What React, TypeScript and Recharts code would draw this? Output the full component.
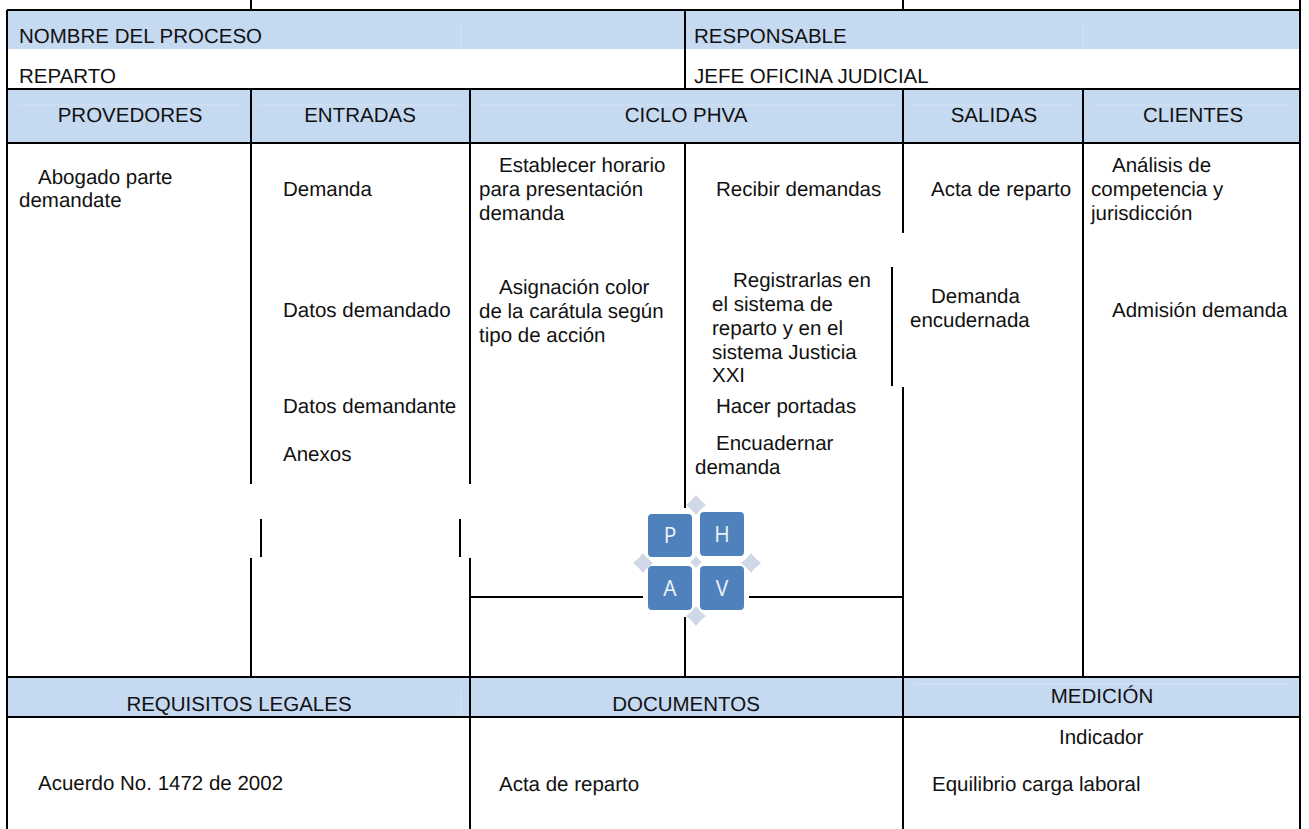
import { ScatterChart, Scatter, XAxis, YAxis, ReferenceArea, ReferenceLine } from 'recharts';

const WIDTH = 1309;
const HEIGHT = 829;

// blue header bands: [left, right, top, bottom]
const bands = [
  [8, 1299, 11, 49],
  [8, 1299, 90, 143],
  [8, 1299, 678, 717],
];

// black rules: [x1, y1, x2, y2]
const rules = [
  [251, 0, 251, 10],
  [903, 0, 903, 10],
  [1300, 0, 1300, 829],
  [7, 10, 1300, 10],
  [7, 89, 1300, 89],
  [7, 143, 1300, 143],
  [7, 677, 1300, 677],
  [7, 717, 1300, 717],
  [7, 10, 7, 829],
  [685, 10, 685, 89],
  [251, 89, 251, 484],
  [470, 89, 470, 484],
  [261, 519, 261, 557],
  [460, 519, 460, 557],
  [251, 558, 251, 677],
  [470, 558, 470, 829],
  [685, 143, 685, 508],
  [685, 617, 685, 677],
  [903, 89, 903, 233],
  [892, 267, 892, 386],
  [903, 387, 903, 829],
  [1083, 89, 1083, 677],
  [470, 597, 643, 597],
  [749, 597, 903, 597],
];

// pale lines inside the bands
const paleRules = [
  [18, 105, 241, 105],
  [260, 105, 461, 105],
  [479, 105, 895, 105],
  [913, 105, 1075, 105],
  [1093, 105, 1291, 105],
  [913, 684, 1291, 684],
  [461, 25, 461, 49],
  [461, 690, 461, 717],
  [1083, 25, 1083, 49],
];

const cellLabels = ['NOMBRE DEL PROCESO', 'RESPONSABLE', 'REPARTO', 'JEFE OFICINA JUDICIAL',
  'Abogado parte', 'demandate', 'Demanda', 'Datos demandado', 'Datos demandante', 'Anexos',
  'Establecer horario', 'para presentación', 'demanda',
  'Asignación color', 'de la carátula según', 'tipo de acción',
  'Recibir demandas', 'Registrarlas en', 'el sistema de', 'reparto y en el', 'sistema Justicia', 'XXI',
  'Hacer portadas', 'Encuadernar', 'demanda',
  'Acta de reparto', 'Demanda', 'encudernada',
  'Análisis de', 'competencia y', 'jurisdicción', 'Admisión demanda',
  'Acuerdo No. 1472 de 2002', 'Acta de reparto', 'Indicador', 'Equilibrio carga laboral'];
const cellX = [19, 694, 19, 694,
  38, 19, 283, 283, 283, 283,
  499, 479, 479,
  499, 479, 479,
  716, 733, 712, 712, 712, 712,
  716, 716, 695,
  931, 931, 910,
  1112, 1091, 1091, 1112,
  38, 499, 1059, 932];
const cellY = [36, 36, 76, 76,
  177, 200, 189, 310, 406, 454,
  165, 189, 213,
  287, 311, 335,
  189, 280, 304, 328, 352, 375,
  406, 443, 467,
  189, 296, 320,
  165, 189, 213, 310,
  783, 784, 737, 784];

const headers = ['PROVEDORES', 'ENTRADAS', 'CICLO PHVA', 'SALIDAS', 'CLIENTES', 'REQUISITOS LEGALES', 'DOCUMENTOS', 'MEDICIÓN'];
const headerX = [130, 360, 686, 994, 1193, 239, 686, 1102];
const headerY = [115, 115, 115, 115, 115, 704, 704, 696];

// PHVA squares: [left, right, top, bottom]
const squares = [
  [648, 692, 514, 557],
  [700, 744, 512, 556],
  [648, 692, 566, 610],
  [700, 744, 566, 610],
];
const squareLetters = ['P', 'H', 'A', 'V'];
const letterX = [670, 722, 670, 722];
const letterY = [535, 534, 588, 588];

const diamondX = [696, 643, 751, 696, 696];
const diamondY = [505, 563, 563, 616, 562];
const diamondR = [10, 10, 10, 10, 6];

const cellPoints = cellLabels.map((text, i) => ({ x: cellX[i], y: cellY[i], text }));
const headerPoints = headers.map((text, i) => ({ x: headerX[i], y: headerY[i], text }));
const letterPoints = squareLetters.map((text, i) => ({ x: letterX[i], y: letterY[i], text }));
const diamondPoints = diamondX.map((x, i) => ({ x, y: diamondY[i], r: diamondR[i] }));

const FONT = '"Liberation Sans", Arial, sans-serif';

function label(anchor: 'start' | 'middle') {
  return (props: any) => (
    <text x={props.cx} y={props.cy} textAnchor={anchor} dominantBaseline="central"
      fontFamily={FONT} fontSize={20.5} fill="#111" textRendering="geometricPrecision">
      {props.payload.text}
    </text>
  );
}

function LetterShape(props: any) {
  return (
    <text x={props.cx} y={props.cy} textAnchor="middle" dominantBaseline="central"
      fontFamily='"Open Sans", sans-serif' fontSize={21} fill="#eef3fa">
      {props.payload.text}
    </text>
  );
}

function DiamondShape(props: any) {
  const { cx, cy } = props;
  const r = props.payload.r;
  const k = r * 0.42;
  const d = `M${cx} ${cy - r}Q${cx + k} ${cy - k} ${cx + r} ${cy}Q${cx + k} ${cy + k} ${cx} ${cy + r}Q${cx - k} ${cy + k} ${cx - r} ${cy}Q${cx - k} ${cy - k} ${cx} ${cy - r}Z`;
  return <path d={d} fill="#d0d8e8" />;
}

export default function App() {
  return (
    <div style={{ position: 'absolute', left: 0, top: 0, width: WIDTH, height: HEIGHT, background: '#fff', overflow: 'hidden' }}>
      <ScatterChart width={WIDTH} height={HEIGHT} margin={{ top: 0, right: 0, bottom: 0, left: 0 }}>
        <XAxis type="number" dataKey="x" domain={[0, WIDTH]} hide allowDataOverflow />
        <YAxis type="number" dataKey="y" domain={[0, HEIGHT]} reversed hide allowDataOverflow />

        {bands.map(([x1, x2, y1, y2], i) => (
          <ReferenceArea key={i} x1={x1} x2={x2} y1={y1} y2={y2} fill="#c5d9f1" fillOpacity={1} stroke="none" />
        ))}
        {paleRules.map(([x1, y1, x2, y2], i) => (
          <ReferenceLine key={i} segment={[{ x: x1, y: y1 }, { x: x2, y: y2 }]} stroke="#d5e3f4" strokeWidth={1} />
        ))}
        {rules.map(([x1, y1, x2, y2], i) => (
          <ReferenceLine key={i} segment={[{ x: x1, y: y1 }, { x: x2, y: y2 }]} stroke="#000" strokeWidth={2} />
        ))}
        {squares.map(([x1, x2, y1, y2], i) => (
          <ReferenceArea key={i} x1={x1} x2={x2} y1={y1} y2={y2} fill="#4f81bd" fillOpacity={1} stroke="none" radius={4} />
        ))}

        <Scatter data={diamondPoints} shape={DiamondShape} isAnimationActive={false} />
        <Scatter data={letterPoints} shape={LetterShape} isAnimationActive={false} />
        <Scatter data={cellPoints} shape={label('start')} isAnimationActive={false} />
        <Scatter data={headerPoints} shape={label('middle')} isAnimationActive={false} />
      </ScatterChart>
    </div>
  );
}
